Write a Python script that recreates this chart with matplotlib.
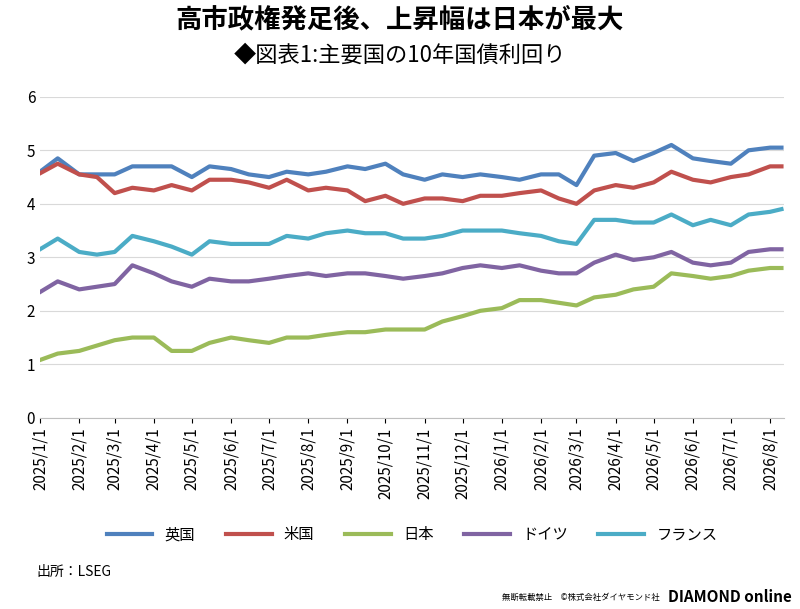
import pandas as pd
import matplotlib.pyplot as plt
import matplotlib.dates as mdates

def set_japanese_font():
    plt.rcParams["font.family"] = ["Noto Sans CJK JP", "DejaVu Sans"]
    plt.rcParams["axes.unicode_minus"] = False

set_japanese_font()

dates = []
for y, m in [(2025, i) for i in range(1, 13)] + [(2026, i) for i in range(1, 9)]:
    dates.append(pd.Timestamp(y, m, 1))
    if not (y == 2026 and m == 8):
        dates.append(pd.Timestamp(y, m, 15))
dates.append(pd.Timestamp(2026, 8, 10))

data = pd.DataFrame({
    "英国": [4.6, 4.85, 4.55, 4.55, 4.55, 4.7, 4.7, 4.7, 4.5, 4.7, 4.65, 4.55, 4.5, 4.6, 4.55, 4.6, 4.7, 4.65, 4.75, 4.55,
           4.45, 4.55, 4.5, 4.55, 4.5, 4.45, 4.55, 4.55, 4.35, 4.9, 4.95, 4.8, 4.95, 5.1, 4.85, 4.8, 4.75, 5.0, 5.05, 5.05],
    "米国": [4.57, 4.75, 4.55, 4.5, 4.2, 4.3, 4.25, 4.35, 4.25, 4.45, 4.45, 4.4, 4.3, 4.45, 4.25, 4.3, 4.25, 4.05, 4.15, 4.0,
           4.1, 4.1, 4.05, 4.15, 4.15, 4.2, 4.25, 4.1, 4.0, 4.25, 4.35, 4.3, 4.4, 4.6, 4.45, 4.4, 4.5, 4.55, 4.7, 4.7],
    "日本": [1.08, 1.2, 1.25, 1.35, 1.45, 1.5, 1.5, 1.25, 1.25, 1.4, 1.5, 1.45, 1.4, 1.5, 1.5, 1.55, 1.6, 1.6, 1.65, 1.65,
           1.65, 1.8, 1.9, 2.0, 2.05, 2.2, 2.2, 2.15, 2.1, 2.25, 2.3, 2.4, 2.45, 2.7, 2.65, 2.6, 2.65, 2.75, 2.8, 2.8],
    "ドイツ": [2.35, 2.55, 2.4, 2.45, 2.5, 2.85, 2.7, 2.55, 2.45, 2.6, 2.55, 2.55, 2.6, 2.65, 2.7, 2.65, 2.7, 2.7, 2.65, 2.6,
            2.65, 2.7, 2.8, 2.85, 2.8, 2.85, 2.75, 2.7, 2.7, 2.9, 3.05, 2.95, 3.0, 3.1, 2.9, 2.85, 2.9, 3.1, 3.15, 3.15],
    "フランス": [3.15, 3.35, 3.1, 3.05, 3.1, 3.4, 3.3, 3.2, 3.05, 3.3, 3.25, 3.25, 3.25, 3.4, 3.35, 3.45, 3.5, 3.45, 3.45, 3.35,
             3.35, 3.4, 3.5, 3.5, 3.5, 3.45, 3.4, 3.3, 3.25, 3.7, 3.7, 3.65, 3.65, 3.8, 3.6, 3.7, 3.6, 3.8, 3.85, 3.9],
}, index=dates)
colors = ["#4f81bd", "#c0504d", "#9bbb59", "#8064a2", "#4bacc6"]

fig = plt.figure(figsize=(8, 6.09), dpi=100)
ax = fig.add_axes([0.05, 0.314, 0.93, 0.527])
for col, c in zip(data.columns, colors):
    ax.plot(data.index, data[col], color=c, linewidth=3, label=col)
ax.set_ylim(0, 6)
ax.set_xlim(pd.Timestamp(2025, 1, 1), pd.Timestamp(2026, 8, 12))
ax.grid(axis="y", color="#d9d9d9")
ax.xaxis.set_major_locator(mdates.MonthLocator())
ax.set_xticks(ax.get_xticks())
ax.set_xticklabels([f"{d.year}/{d.month}/1" for d in mdates.num2date(ax.get_xticks())], rotation=90, fontsize=11)
ax.tick_params(axis="y", labelsize=11, length=0)
for s in ["top", "right", "left"]:
    ax.spines[s].set_visible(False)
ax.spines["bottom"].set_color("#bfbfbf")
ax.legend(loc="center", bbox_to_anchor=(0.5, -0.365), ncol=5, frameon=False, fontsize=11, handlelength=3)

fig.text(0.5, 0.968, "高市政権発足後、上昇幅は日本が最大", ha="center", va="center", fontsize=19, fontweight="bold")
fig.text(0.5, 0.91, "◆図表1:主要国の10年国債利回り", ha="center", va="center", fontsize=16)
fig.text(0.045, 0.055, "出所：LSEG", fontsize=10)
fig.text(0.825, 0.015, "無断転載禁止　©株式会社ダイヤモンド社", ha="right", fontsize=6)
fig.text(0.99, 0.012, "DIAMOND online", ha="right", fontsize=11, fontweight="bold", style="italic")

plt.savefig("out.png")
plt.close()
